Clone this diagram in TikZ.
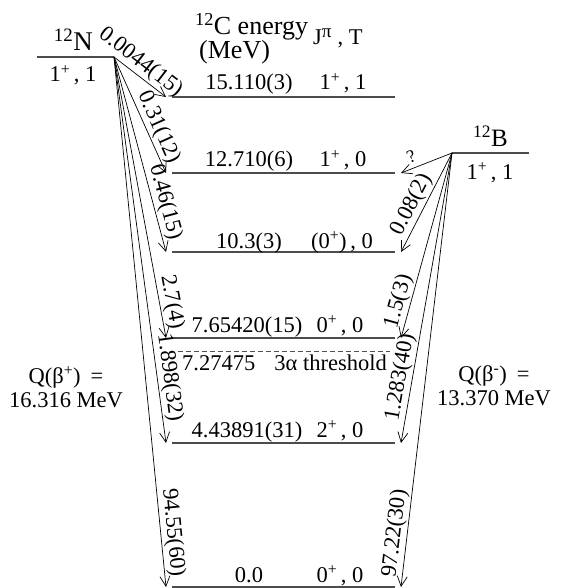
\documentclass[tikz,border=0pt]{standalone}
\usepackage{fontspec}
\setmainfont{Liberation Serif}
\usetikzlibrary{arrows.meta}
\begin{document}
\begin{tikzpicture}[x=1pt,y=-1pt,
  lvl/.style={draw=black!70, line width=1.4pt},
  lvldash/.style={draw=black!70, line width=0.8pt, dash pattern=on 5pt off 3pt},
  parent/.style={draw=black!70, line width=1.4pt},
  decay/.style={draw, line width=0.7pt, -{Straight Barb[length=10pt,width=10pt]}},
  lab/.style={font=\fontsize{22.5}{24}\selectfont, inner sep=0pt},
  br/.style={lab, sloped, above, inner sep=1.5pt},
  big/.style={font=\fontsize{26}{28}\selectfont, inner sep=0pt}]
\useasboundingbox (0,0) rectangle (562,588);

% parent nuclei
\coordinate (N) at (114,57);
\coordinate (Nl) at (37,57);
\coordinate (B) at (452,153);
\coordinate (Br) at (529,153);
\draw[parent] (Nl) -- (N);
\draw[parent] (B) -- (Br);
\node[font=\fontsize{27}{29}\selectfont, inner sep=0pt, anchor=base east] (Nname) at (93,51) {\textsuperscript{12}N};
\node[lab, anchor=base] (Nspin) at (73,82) {1\textsuperscript{+}\,, 1};
\node[font=\fontsize{25}{27}\selectfont, inner sep=0pt, anchor=base east] (Bname) at (508,147) {\textsuperscript{12}B};
\node[lab, anchor=base] (Bspin) at (490,179) {1\textsuperscript{+}\,, 1};

% header
\node[big, anchor=base west] (hd1) at (195,35) {\textsuperscript{12}C energy};
\node[big, anchor=base west] (hd2) at (199,59) {(MeV)};
\node[lab, anchor=base west] (hd3) at (313,45) {J\textsuperscript{\fontsize{19}{20}\selectfont π}\ , T};

% levels
\foreach \n/\y in {15/97, 12/173, 10/252, 7/338, 4/443, 0/587}{
  \coordinate (L\n a) at (172,\y);
  \coordinate (L\n b) at (395,\y);
  \coordinate (T\n l) at (166,\y);
  \coordinate (T\n r) at (401,\y);
  \draw[lvl] (L\n a) -- (L\n b);
}
\coordinate (Da) at (178,351);
\coordinate (Db) at (390,351);
\draw[lvldash] (Da) -- (Db);

\node[lab, anchor=base] (e15) at (249,90) {15.110(3)};
\node[lab, anchor=base] (j15) at (343,90) {1\textsuperscript{+}\,, 1};
\node[lab, anchor=base] (e12) at (249,167) {12.710(6)};
\node[lab, anchor=base] (j12) at (343,167) {1\textsuperscript{+}\,, 0};
\node[lab, anchor=base] (e10) at (249,248) {10.3(3)};
\node[lab, anchor=base] (j10) at (342,248) {(0\textsuperscript{+})\,, 0};
\node[lab, anchor=base] (e7) at (247,332) {7.65420(15)};
\node[lab, anchor=base] (j7) at (340,332) {0\textsuperscript{+}\,, 0};
\node[lab, anchor=base west] (ed) at (182,370) {7.27475\hspace{0.6em} 3α threshold};
\node[lab, anchor=base] (e4) at (247,437) {4.43891(31)};
\node[lab, anchor=base] (j4) at (340,437) {2\textsuperscript{+}\,, 0};
\node[lab, anchor=base] (e0) at (249,582) {0.0};
\node[lab, anchor=base] (j0) at (340,582) {0\textsuperscript{+}\,, 0};

% Q values
\node[lab, align=center, anchor=base] (Qp) at (66,407) {Q(β\textsuperscript{+})\hspace{0.45em}=\\16.316 MeV};
\node[lab, align=center, anchor=base] (Qm) at (494,405) {Q(β\textsuperscript{-})\hspace{0.45em}=\\13.370 MeV};

% beta+ decays of 12N
\draw[decay] (N) -- node[br, pos=0.37] {0.0044(15)} (T15l);
\draw[decay] (N) -- node[br, pos=0.65] {0.31(12)} (T12l);
\draw[decay] (N) -- node[br, pos=0.76] {0.46(15)} (T10l);
\draw[decay] (N) -- node[br, pos=0.88] {2.7(4)} (T7l);
\draw[decay] (N) -- node[br, pos=0.835] {1.898(32)} (T4l);
\draw[decay] (N) -- node[br, pos=0.9] {94.55(60)} (T0l);

% beta- decays of 12B
\draw[decay] (B) -- node[br, pos=0.72, font=\fontsize{18}{20}\selectfont, inner sep=5pt] {?} (T12r);
\draw[decay] (B) -- node[br, pos=0.58] {0.08(2)} (T10r);
\draw[decay] (B) -- node[br, pos=0.82] {1.5(3)} (T7r);
\draw[decay] (B) -- node[br, pos=0.78] {1.283(40)} (T4r);
\draw[decay] (B) -- node[br, pos=0.88] {97.22(30)} (T0r);
\end{tikzpicture}
\end{document}
